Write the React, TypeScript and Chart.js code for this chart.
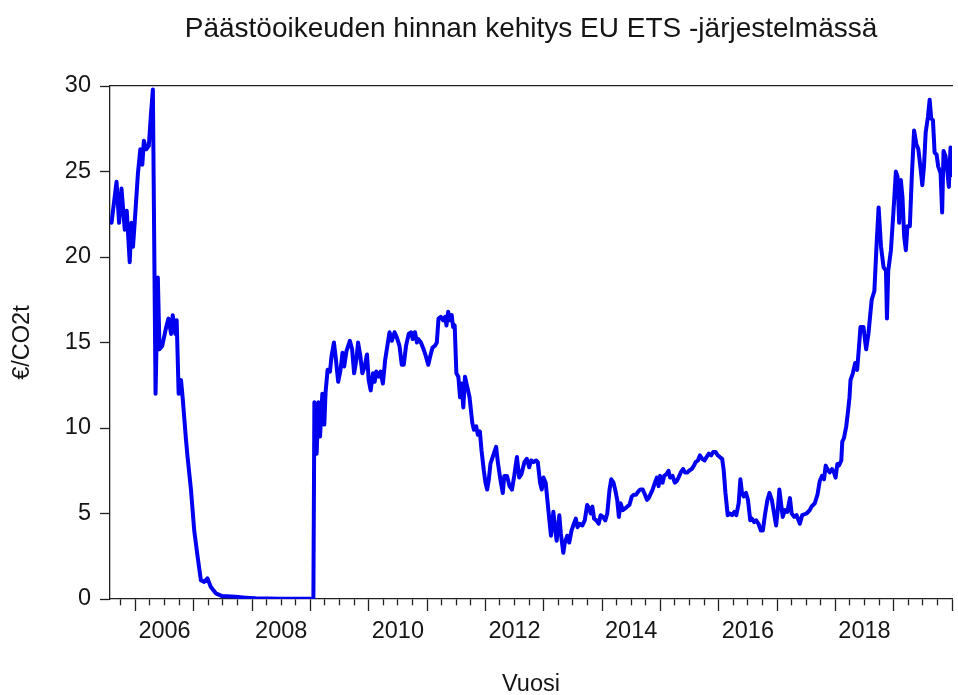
import React, { useEffect, useRef } from 'react';
import { Chart, registerables } from 'chart.js';

Chart.register(...registerables);

// Decimal years and prices (€/CO2t)
const datesA = [
  2005.591, 2005.677, 2005.721, 2005.762, 2005.818, 2005.852, 2005.903, 2005.932, 2005.959, 2005.988,
  2006.044, 2006.085, 2006.119, 2006.146, 2006.187, 2006.231, 2006.260, 2006.300, 2006.346, 2006.385,
  2006.414, 2006.460, 2006.528, 2006.567, 2006.613, 2006.640, 2006.686, 2006.708, 2006.742, 2006.783,
  2006.810, 2006.868, 2006.895, 2006.953, 2007.009, 2007.066, 2007.123, 2007.180, 2007.236, 2007.294,
  2007.379, 2007.486, 2007.719, 2007.889, 2008.060, 2008.456, 2009.052,
];
const pricesA = [
  22.0, 24.4, 22.0, 24.0, 21.6, 22.7, 19.7, 22.0, 20.6, 22.0,
  24.9, 26.3, 25.4, 26.8, 26.3, 26.5, 28.0, 29.8, 12.0, 18.8,
  14.6, 14.8, 15.9, 16.4, 15.5, 16.6, 15.5, 16.3, 12.0, 12.8,
  11.8, 9.3, 8.3, 6.4, 4.0, 2.5, 1.1, 1.0, 1.2, 0.7,
  0.33, 0.17, 0.13, 0.08, 0.04, 0.02, 0.02,
];

const datesB = [
  2009.069, 2009.108, 2009.137, 2009.166, 2009.205, 2009.239, 2009.261, 2009.295, 2009.336, 2009.363,
  2009.404, 2009.438, 2009.477, 2009.517, 2009.551, 2009.580, 2009.619, 2009.677, 2009.716, 2009.750,
  2009.789, 2009.818, 2009.857, 2009.891, 2009.932, 2009.971, 2010.000, 2010.034, 2010.073, 2010.102,
  2010.129, 2010.170, 2010.204, 2010.243, 2010.283, 2010.329, 2010.357, 2010.397, 2010.443, 2010.482,
  2010.528, 2010.567, 2010.601, 2010.640, 2010.686, 2010.725, 2010.754, 2010.793, 2010.827, 2010.851,
  2010.895, 2010.941, 2010.980, 2011.021, 2011.055, 2011.094, 2011.134, 2011.168, 2011.197, 2011.236,
  2011.277, 2011.311, 2011.333, 2011.362, 2011.396, 2011.423, 2011.447, 2011.474, 2011.503, 2011.537,
  2011.566, 2011.593, 2011.622, 2011.651, 2011.690, 2011.729, 2011.776, 2011.804, 2011.843, 2011.872,
  2011.906, 2011.934, 2011.974, 2012.002, 2012.031, 2012.060, 2012.087, 2012.145, 2012.184, 2012.218,
  2012.257, 2012.298, 2012.325, 2012.371, 2012.414, 2012.456, 2012.495, 2012.541, 2012.580, 2012.618,
  2012.669, 2012.711, 2012.751, 2012.785, 2012.826, 2012.870, 2012.899, 2012.938, 2012.967, 2012.996,
  2013.034, 2013.069, 2013.098, 2013.125, 2013.166, 2013.193, 2013.222, 2013.268, 2013.295, 2013.336,
  2013.363, 2013.404, 2013.438, 2013.477, 2013.517, 2013.551, 2013.580, 2013.619, 2013.664, 2013.704,
  2013.745, 2013.779, 2013.806, 2013.835, 2013.864, 2013.903, 2013.942, 2013.976,
];
const pricesB = [
  11.5, 8.5, 11.5, 9.5, 12.0, 10.2, 12.1, 13.4, 13.3, 14.2,
  15.0, 14.0, 12.7, 13.4, 14.4, 13.6, 14.5, 15.1, 14.6, 13.2,
  14.0, 15.0, 14.2, 13.2, 13.6, 14.3, 12.8, 12.2, 13.2, 12.7,
  13.3, 13.0, 13.3, 12.6, 14.0, 15.0, 15.6, 15.1, 15.6, 15.3,
  14.8, 13.7, 13.7, 14.8, 15.5, 15.6, 15.2, 15.6, 15.0, 15.2,
  15.0, 14.6, 14.2, 13.7, 14.2, 14.7, 14.8, 15.0, 16.4, 16.5,
  16.3, 16.5, 16.0, 16.8, 16.3, 16.6, 15.9, 16.0, 13.2, 13.0,
  11.8, 12.6, 11.2, 13.0, 12.4, 11.8, 10.3, 9.9, 10.1, 9.6,
  9.8, 8.7, 7.5, 6.8, 6.4, 7.0, 7.9, 8.5, 8.9, 7.9,
  7.0, 6.2, 7.2, 7.2, 6.6, 6.4, 7.2, 8.3, 7.1, 7.3,
  8.0, 8.2, 7.7, 8.1, 8.0, 8.1, 8.0, 6.8, 6.4, 7.1,
  6.8, 5.6, 4.6, 3.7, 5.1, 4.2, 3.4, 4.9, 3.8, 2.7,
  3.3, 3.7, 3.3, 4.0, 4.4, 4.7, 4.2, 4.4, 4.3, 4.6,
  5.5, 5.3, 5.0, 5.4, 4.7, 4.6, 4.4, 4.9,
];

const datesC = [
  2014.017, 2014.056, 2014.090, 2014.129, 2014.158, 2014.197, 2014.232, 2014.260, 2014.289, 2014.317,
  2014.357, 2014.397, 2014.431, 2014.470, 2014.511, 2014.545, 2014.584, 2014.623, 2014.657, 2014.698,
  2014.737, 2014.771, 2014.800, 2014.827, 2014.868, 2014.907, 2014.941, 2014.970, 2014.997, 2015.038,
  2015.066, 2015.106, 2015.140, 2015.168, 2015.209, 2015.248, 2015.282, 2015.311, 2015.350, 2015.389,
  2015.423, 2015.464, 2015.491, 2015.537, 2015.576, 2015.605, 2015.644, 2015.678, 2015.719, 2015.758,
  2015.792, 2015.831, 2015.872, 2015.906, 2015.946, 2015.985, 2016.019, 2016.060, 2016.087, 2016.116,
  2016.155, 2016.189, 2016.230, 2016.269, 2016.303, 2016.343, 2016.372, 2016.400, 2016.428, 2016.468,
  2016.502, 2016.541, 2016.570, 2016.609, 2016.643, 2016.683, 2016.723, 2016.757, 2016.797, 2016.836,
  2016.870, 2016.911, 2016.950, 2016.984, 2017.013, 2017.040, 2017.069, 2017.098, 2017.137, 2017.176,
  2017.222, 2017.251, 2017.295, 2017.336, 2017.392, 2017.431, 2017.506, 2017.562, 2017.591, 2017.648,
  2017.694, 2017.733, 2017.772, 2017.806, 2017.835, 2017.864, 2017.903, 2017.942, 2017.976, 2018.005,
  2018.034, 2018.061, 2018.102, 2018.119, 2018.147, 2018.187, 2018.215, 2018.243, 2018.260, 2018.300,
  2018.340, 2018.374, 2018.402, 2018.431, 2018.482, 2018.528, 2018.567, 2018.623, 2018.669, 2018.708,
  2018.742, 2018.783, 2018.827, 2018.868, 2018.885, 2018.907, 2018.953, 2018.997, 2019.038, 2019.066,
  2019.094, 2019.123, 2019.151, 2019.180, 2019.209, 2019.236, 2019.277, 2019.311, 2019.350, 2019.389,
  2019.423, 2019.464, 2019.491, 2019.520, 2019.549, 2019.588, 2019.617, 2019.644, 2019.673, 2019.702,
  2019.736, 2019.763, 2019.804, 2019.831, 2019.855, 2019.889, 2019.917, 2019.946, 2019.974, 2019.995,
];
const pricesC = [
  4.8, 4.6, 5.0, 6.4, 7.0, 6.8, 6.3, 5.8, 4.8, 5.6,
  5.2, 5.3, 5.4, 5.5, 6.0, 6.1, 6.1, 6.3, 6.4, 6.4,
  6.1, 5.8, 5.9, 6.1, 6.4, 6.8, 7.1, 6.6, 7.2, 6.8,
  7.2, 7.3, 7.5, 7.1, 7.2, 6.8, 6.9, 7.1, 7.4, 7.6,
  7.4, 7.4, 7.5, 7.6, 7.8, 8.0, 8.1, 8.4, 8.2, 8.1,
  8.3, 8.5, 8.4, 8.6, 8.6, 8.4, 8.3, 8.2, 7.5, 6.2,
  4.9, 5.0, 4.9, 5.1, 4.9, 5.6, 7.0, 6.2, 6.0, 6.2,
  5.8, 4.6, 4.7, 4.5, 4.6, 4.4, 4.0, 4.0, 5.0, 5.8,
  6.2, 5.8, 5.0, 4.3, 5.2, 6.4, 5.6, 4.8, 5.2, 5.1,
  5.9, 5.0, 4.8, 4.9, 4.4, 4.9, 5.0, 5.2, 5.4, 5.6,
  6.1, 6.9, 7.2, 7.0, 7.8, 7.6, 7.4, 7.6, 7.4, 7.1,
  7.9, 7.8, 8.1, 9.2, 9.4, 10.1, 10.9, 11.8, 12.8, 13.2,
  13.8, 13.4, 14.6, 15.9, 15.9, 14.6, 15.5, 17.5, 18.0, 20.8,
  22.9, 20.6, 19.4, 19.2, 16.4, 19.2, 20.4, 22.7, 25.0, 24.7,
  22.0, 24.5, 23.5, 21.2, 20.4, 21.8, 21.8, 24.7, 27.4, 26.6,
  26.3, 25.1, 24.2, 25.3, 27.3, 28.2, 29.2, 28.1, 28.0, 26.1,
  26.0, 25.3, 24.9, 22.6, 26.2, 25.9, 25.1, 24.1, 26.4, 24.8,
];

const dates = [...datesA, ...datesB, ...datesC];
const prices = [...pricesA, ...pricesB, ...pricesC];

const labelYears = [2006, 2008, 2010, 2012, 2014, 2016, 2018];
const X_MIN = 2005.565;
const X_MAX = 2020.0;
const Y_MIN = 0;
const Y_MAX = 30;
const Y_STEP = 5;

const TITLE = 'Päästöoikeuden hinnan kehitys EU ETS -järjestelmässä';
const X_TITLE = 'Vuosi';
const Y_TITLE = '€/CO2t';

const FONT = '"Liberation Sans", Arial, Helvetica, sans-serif';
const TEXT = '#151515';
const AXIS = '#202020';

export default function App() {
  const ref = useRef<HTMLCanvasElement | null>(null);

  useEffect(() => {
    if (!ref.current) return;
    const points = dates.map((d, i) => ({ x: d, y: prices[i] }));
    const chart = new Chart(ref.current, {
      type: 'line',
      data: {
        datasets: [
          {
            data: points,
            borderColor: '#0000f0',
            borderWidth: 4,
            pointRadius: 0,
            tension: 0,
            fill: false,
            borderJoinStyle: 'round',
            borderCapStyle: 'round',
          },
        ],
      },
      options: {
        animation: false,
        responsive: false,
        devicePixelRatio: 1,
        layout: { padding: 0 },
        plugins: {
          legend: { display: false },
          tooltip: { enabled: false },
          title: {
            display: true,
            text: TITLE,
            fullSize: false,
            color: TEXT,
            font: { family: FONT, size: 28, weight: 'normal' },
            padding: { top: 12, bottom: 40.4 },
          },
        },
        scales: {
          x: {
            type: 'linear',
            position: 'bottom',
            min: X_MIN,
            max: X_MAX,
            afterBuildTicks: (scale: any) => {
              const ticks: any[] = [];
              const start = Math.ceil(X_MIN * 4) / 4;
              for (let v = start; v <= X_MAX + 1e-9; v += 0.25) {
                ticks.push({ value: Math.round(v * 100) / 100 });
              }
              scale.ticks = ticks;
            },
            afterFit: (scale: any) => {
              scale.height = 96;
            },
            grid: {
              drawOnChartArea: false,
              drawTicks: true,
              tickLength: 12,
              tickWidth: 1.3,
              tickColor: AXIS,
              tickBorderDash: (ctx: any) => {
                const v = ctx.tick ? ctx.tick.value : 0;
                return Math.abs(v - Math.round(v)) < 1e-6 ? [] : [6, 40];
              },
            },
            border: { display: true, color: AXIS, width: 1.3 },
            ticks: {
              autoSkip: false,
              maxRotation: 0,
              minRotation: 0,
              padding: 6,
              color: TEXT,
              font: { family: FONT, size: 23.5 },
              callback: (value: any) => {
                const v = Number(value);
                const y = labelYears.find((yr) => Math.abs(v - (yr + 0.5)) < 1e-6);
                return y !== undefined ? String(y) : '';
              },
            },
            title: {
              display: true,
              text: X_TITLE,
              color: TEXT,
              font: { family: FONT, size: 23.5 },
              padding: { top: 0, bottom: -4 },
            },
          },
          xTop: {
            type: 'linear',
            position: 'top',
            min: X_MIN,
            max: X_MAX,
            grid: { display: false, drawTicks: false },
            ticks: { display: false },
            border: { display: true, color: AXIS, width: 1.3 },
            afterFit: (scale: any) => {
              scale.height = 0;
            },
          },
          y: {
            type: 'linear',
            position: 'left',
            min: Y_MIN,
            max: Y_MAX,
            afterFit: (scale: any) => {
              scale.width = 110;
            },
            grid: {
              drawOnChartArea: false,
              drawTicks: true,
              tickLength: 10,
              tickWidth: 1.3,
              tickColor: AXIS,
            },
            border: { display: true, color: AXIS, width: 1.3 },
            ticks: {
              stepSize: Y_STEP,
              padding: 9,
              color: TEXT,
              font: { family: FONT, size: 23.5 },
            },
            title: {
              display: true,
              text: Y_TITLE,
              color: TEXT,
              font: { family: FONT, size: 23.5 },
              padding: { top: 8, bottom: 0 },
            },
          },
        },
      } as any,
    });
    return () => chart.destroy();
  }, []);

  return (
    <div style={{ position: 'absolute', left: 0, top: 0, width: 958, height: 695, background: '#fff' }}>
      <canvas ref={ref} width={958} height={695} style={{ display: 'block' }} />
    </div>
  );
}
